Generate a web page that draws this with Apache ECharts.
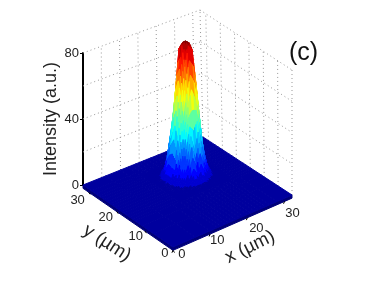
<!DOCTYPE html>
<html><head><meta charset="utf-8">
<style>html,body{margin:0;padding:0;background:#fff}#c{width:375px;height:281px;filter:blur(0.45px)}</style>
<script src="https://cdn.jsdelivr.net/npm/echarts@6/dist/echarts.min.js"></script>
</head><body><div id="c"></div>
<script>
var xNodes=[0,6,10,12,13,14,15,16,17,18,19,20,21,22,23,24,25,26,28,32];
var yNodes=[0,7,11,13.5,14.5,15.5,16.5,17.5,18.5,19.5,20.5,21.5,22.5,23.5,24.5,25.5,26.5,27.5,29,32];
// central intensity values, rows by y (13.5 to 27.5), columns by x (12 to 26)
var peakRows=[
[0.1,0.2,0.1,0.3,0.4,0.2,0.4,0.4,0.3,0.3,0.3,0.2,0.1,0.1,0.0],
[0.1,0.2,0.4,0.5,0.6,0.8,0.9,1.2,1.0,0.7,0.5,0.4,0.3,0.2,0.1],
[0.2,0.3,0.5,0.8,1.2,2.0,3.0,2.4,3.2,2.0,1.1,0.8,0.4,0.3,0.1],
[0.2,0.5,0.8,1.6,3,6,11,7,12,6,3,1.7,0.7,0.5,0.2],
[0.3,0.6,1.2,3.2,8,17,30,20,31,16,9,3.2,1.3,0.5,0.3],
[0.3,0.9,2.2,6,17,34,47,57,50,40,18,7,2.0,1.0,0.4],
[0.4,1.0,2.8,10,27,50,71,83,80,58,30,10,3.0,0.9,0.3],
[0.5,1.2,3.2,10,35,62,83,85,83,66,34,10,2.8,1.2,0.4],
[0.4,0.9,2.4,11,28,55,80,83,75,52,32,9,3.1,1.0,0.5],
[0.3,1.0,2.6,7,22,37,54,60,50,43,20,7,1.8,0.8,0.3],
[0.3,0.6,1.3,3.4,10,21,35,30,34,22,10,3.2,1.2,0.6,0.3],
[0.2,0.4,0.8,1.7,3.4,8,12,14,11,9,3.2,1.7,0.8,0.4,0.2],
[0.1,0.3,0.4,1.0,1.2,2.0,3.4,3.6,3.0,2.2,1.3,0.8,0.4,0.2,0.1],
[0.1,0.2,0.3,0.4,0.6,0.9,1.1,1.3,1.0,0.9,0.6,0.4,0.3,0.2,0.1],
[0.0,0.1,0.1,0.3,0.3,0.2,0.4,0.5,0.4,0.3,0.2,0.2,0.1,0.1,0.0]
];
var xTicks=[0,10,20,30];
var yTicks=[0,10,20,30];
var gridXY=[5,10,15,20,25,30];
var gridZ=[20,40,60,80];
var colorMax=85,colorLevels=20,SUB=3;

var L=83,T=53,W=209,H=132,XMAX=32,ZMAX=80,SKIRT=-2;
var F00=[173,247],F10=[292,195],F01=[83,185],F11=[203,137];
var T00=[175,113],T10=[292,70],T01=[83,53],T11=[200,10];
function bil(p00,p10,p01,p11,a,b,k){return (1-a)*(1-b)*p00[k]+a*(1-b)*p10[k]+(1-a)*b*p01[k]+a*b*p11[k];}
function project(x,y,z){
  var a=x/XMAX,b=y/XMAX,c=z/ZMAX,px=[0,1].map(function(k){
    return (1-c)*bil(F00,F10,F01,F11,a,b,k)+c*bil(T00,T10,T01,T11,a,b,k);});
  return [(px[0]-L)/W,(T+H-px[1])/H*ZMAX];
}
function zAt(i,j){
  var ci=i-3,cj=j-3;
  if(ci<0||cj<0||ci>14||cj>14)return 0;
  return peakRows[cj][ci];
}
function jet(t){
  t=Math.round(Math.max(0,Math.min(1,t))*colorLevels)/colorLevels;
  t=0.03+0.97*t;
  function c(v){return Math.round(255*Math.max(0,Math.min(1,v)));}
  var r=1.5-Math.abs(4*t-3),g=1.5-Math.abs(4*t-2),b=1.5-Math.abs(4*t-1);
  return 'rgb('+c(r)+','+c(g)+','+c(b)+')';
}
// shading facets: each mesh cell is split for colour only (values stay those of the mesh nodes)
var cells=[];
for(var j=yNodes.length-2;j>=0;j--)for(var i=xNodes.length-2;i>=0;i--){
  var n=(i>=3&&i<17&&j>=3&&j<17)?SUB:1;
  for(var sj=n-1;sj>=0;sj--)for(var si=n-1;si>=0;si--)cells.push([i,j,si,sj,n]);
}
function surf(i,j,u,v){
  var z=(1-u)*(1-v)*zAt(i,j)+u*(1-v)*zAt(i+1,j)+(1-u)*v*zAt(i,j+1)+u*v*zAt(i+1,j+1);
  return [xNodes[i]+u*(xNodes[i+1]-xNodes[i]),yNodes[j]+v*(yNodes[j+1]-yNodes[j]),z];
}

var wallLines=[];
gridXY.forEach(function(v){wallLines.push([v,XMAX,0,v,XMAX,ZMAX]);wallLines.push([XMAX,v,0,XMAX,v,ZMAX]);});
wallLines.push([XMAX,XMAX,0,XMAX,XMAX,ZMAX]);
wallLines.push([XMAX,0,0,XMAX,0,ZMAX]);
gridZ.forEach(function(v){wallLines.push([0,XMAX,v,XMAX,XMAX,v]);wallLines.push([XMAX,XMAX,v,XMAX,0,v]);});

var skirtEdges=[[0,0,XMAX,0],[0,0,0,XMAX]];

var tickItems=[];
xTicks.forEach(function(v){tickItems.push(['x',v]);});
yTicks.forEach(function(v){tickItems.push(['y',v]);});

var chart=echarts.init(document.getElementById('c'),null,{renderer:'canvas'});
var FONT='"Liberation Sans",Arial,sans-serif';
chart.setOption({
  animation:false,
  backgroundColor:'#fff',
  title:{text:'(c)',left:284,top:36,textStyle:{fontFamily:FONT,fontWeight:'normal',fontSize:25,color:'#111'}},
  grid:{left:L,top:T,width:W,height:H,containLabel:false},
  xAxis:{type:'value',min:0,max:1,show:false},
  yAxis:{type:'value',min:0,max:ZMAX,interval:40,
    axisLine:{show:true,lineStyle:{color:'#000',width:2}},
    axisTick:{show:true,length:3,lineStyle:{color:'#000',width:1}},
    axisLabel:{fontFamily:FONT,fontSize:13,color:'#222',margin:4},
    splitLine:{show:false},
    name:'Intensity (a.u.)',nameLocation:'middle',nameGap:32,nameRotate:90,nameMoveOverlap:false,
    nameTextStyle:{fontFamily:FONT,fontSize:18,color:'#222',verticalAlign:'middle'}},
  series:[
    {type:'custom',coordinateSystem:'cartesian2d',silent:true,z:1,
     data:wallLines,
     renderItem:function(p,api){
       var d=wallLines[p.dataIndex];
       var a=api.coord(project(d[0],d[1],d[2])),b=api.coord(project(d[3],d[4],d[5]));
       return {type:'line',shape:{x1:a[0],y1:a[1],x2:b[0],y2:b[1]},
         style:{stroke:'#999',lineWidth:1,lineDash:[1,3],fill:null}};
     }},
    {type:'custom',coordinateSystem:'cartesian2d',silent:true,z:2,
     data:skirtEdges,
     renderItem:function(p,api){
       var e=skirtEdges[p.dataIndex];
       var pts=[project(e[0],e[1],0),project(e[2],e[3],0),project(e[2],e[3],SKIRT),project(e[0],e[1],SKIRT)].map(function(v){return api.coord(v);});
       return {type:'polygon',shape:{points:pts},style:{fill:'#00007a',stroke:'#00007a',lineWidth:1}};
     }},
    {type:'custom',coordinateSystem:'cartesian2d',silent:true,z:3,
     data:cells.map(function(c,k){return [k,0];}),
     renderItem:function(p,api){
       var c=cells[p.dataIndex],i=c[0],j=c[1],n=c[4],u=c[2]/n,v=c[3]/n,d=1/n;
       var q=[surf(i,j,u,v),surf(i,j,u+d,v),surf(i,j,u+d,v+d),surf(i,j,u,v+d)];
       var s=0;
       var pts=q.map(function(m){s+=m[2];return api.coord(project(m[0],m[1],m[2]));});
       var col=jet(s/4/colorMax);
       return {type:'polygon',shape:{points:pts},style:{fill:col,stroke:col,lineWidth:1}};
     }},
    {type:'custom',coordinateSystem:'cartesian2d',silent:true,z:4,
     data:tickItems,
     renderItem:function(p,api){
       var d=tickItems[p.dataIndex],isX=d[0]==='x',v=d[1];
       var A=api.coord(isX?project(v,0,SKIRT):project(0,v,SKIRT));
       var dir=isX?[-1,2.4]:[1.6,2.2];
       var off=isX?{0:[9,4],10:[7,6],20:[9,11],30:[8,12.5]}[v]:{0:[-8,3],10:[-9,5],20:[-11,6],30:[-11,8]}[v];
       return {type:'group',children:[
         {type:'line',shape:{x1:A[0],y1:A[1],x2:A[0]+dir[0],y2:A[1]+dir[1]},style:{stroke:'#000',lineWidth:1}},
         {type:'text',style:{text:String(v),x:A[0]+off[0],y:A[1]+off[1],fill:'#222',font:'13px '+FONT,textAlign:'center',textVerticalAlign:'middle'}}
       ]};
     }}
  ],
  graphic:[
    {type:'text',x:107,y:243,rotation:-33*Math.PI/180,style:{text:'y (\u00b5m)',fill:'#222',font:'18.5px '+FONT,textAlign:'center',textVerticalAlign:'middle'},z:5},
    {type:'text',x:250,y:247,rotation:26*Math.PI/180,style:{text:'x (\u00b5m)',fill:'#222',font:'18.5px '+FONT,textAlign:'center',textVerticalAlign:'middle'},z:5}
  ]
});
</script></body></html>
